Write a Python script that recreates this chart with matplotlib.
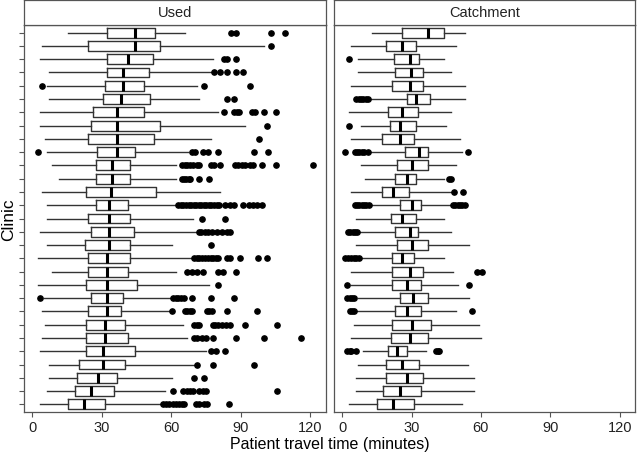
import numpy as np
import matplotlib
matplotlib.use("Agg")
import matplotlib.pyplot as plt

plt.rcParams['font.family'] = ['Liberation Sans', 'DejaVu Sans']

# clinics, top to bottom
clinics = list(range(1, 30))
panel_titles = ['Used', 'Catchment']

# ---- Used: box statistics (minutes) ----
used_whislo = [15.6, 4.3, 3.5, 7.3, 6.5, 7.3, 3.3, 3.3, 5.3, 6.3,
               8.4, 11.7, 4.3, 6.5, 6.5, 3.5, 6.5, 2.6, 8.4, 2.6,
               5.0, 4.3, 5.3, 4.3, 3.3, 7.3, 7.3, 6.3, 3.3]
used_q1 = [32.4, 24.2, 32.4, 32.4, 31.3, 30.3, 26.4, 25.2, 24.2, 28.1,
           27.4, 27.4, 23.3, 27.4, 24.2, 25.2, 22.8, 24.2, 24.2, 23.3,
           25.2, 24.2, 23.3, 23.3, 23.3, 20.3, 19.4, 18.3, 15.3]
used_med = [44.4, 44.4, 41.5, 39.3, 39.3, 38.2, 36.4, 36.4, 36.4, 36.4,
            34.4, 34.4, 34.0, 33.3, 33.3, 33.3, 33.3, 32.4, 32.4, 32.4,
            32.4, 32.4, 31.4, 31.4, 30.4, 30.4, 28.2, 25.4, 22.3]
used_q3 = [53.1, 55.3, 52.3, 50.2, 48.4, 51.0, 48.4, 55.3, 52.7, 44.3,
           42.2, 42.2, 53.6, 41.2, 42.2, 43.9, 42.2, 42.2, 41.2, 45.1,
           39.3, 38.2, 40.2, 41.2, 44.4, 40.2, 36.4, 35.4, 31.4]
used_whishi = [66.0, 99.9, 77.9, 77.9, 71.1, 72.1, 80.2, 92.0, 77.2, 67.1,
               62.1, 62.1, 81.1, 62.4, 69.2, 71.2, 60.2, 69.3, 62.1, 76.2,
               60.2, 59.5, 65.0, 67.0, 75.1, 70.3, 60.2, 57.1, 55.9]
used_fliers = [
    [85.7, 88.0, 103.0, 109.2],
    [103.0],
    [83.0, 84.2, 88.0],
    [78.3, 81.1, 84.0, 88.0, 91.2],
    [4.2, 74.2, 94.1],
    [84.0, 87.2],
    [83.0, 87.2, 88.3, 89.5, 94.8, 96.2, 100.1, 105.2],
    [101.3],
    [98.1],
    [2.3, 68.9, 70.3, 73.9, 76.1, 80.1, 95.9, 102.0],
    [64.5, 65.8, 67.0, 68.2, 69.6, 71.0, 72.0, 77.1, 78.5, 81.1,
     87.6, 89.0, 90.5, 92.0, 94.0, 95.5, 99.1, 105.2, 121.2],
    [64.5, 65.5, 66.5, 67.5, 68.2, 72.2, 76.2],
    [],
    [63.1, 64.2, 65.3, 66.4, 67.5, 68.6, 69.7, 70.8, 71.9, 73.0, 74.1,
     75.2, 76.3, 77.4, 78.5, 79.6, 80.7, 83.3, 85.2, 87.2, 91.2, 93.4,
     95.2, 97.0, 99.1],
    [73.2, 83.3],
    [71.8, 73.0, 74.5, 76.0, 77.5, 79.7, 81.8, 84.0, 85.4],
    [77.1],
    [69.9, 71.0, 72.2, 73.4, 74.6, 75.8, 77.0, 78.2, 79.4, 80.4, 84.0,
     85.4, 89.8, 97.7, 101.3],
    [67.0, 68.9, 71.0, 73.9, 80.0, 82.3, 88.0],
    [80.1],
    [3.3, 60.7, 61.9, 63.1, 64.3, 65.6, 69.0, 77.2, 87.2],
    [60.2, 66.0, 67.0, 68.0, 68.9, 75.6, 76.5, 77.5, 84.0, 97.2],
    [69.9, 71.0, 71.8, 77.9, 79.0, 80.0, 81.8, 83.7, 85.4, 91.9, 105.9],
    [69.9, 71.0, 73.2, 75.1, 78.2, 88.0, 100.1, 116.0],
    [77.2, 79.4, 83.3],
    [71.3, 78.2, 95.9],
    [69.9, 74.2],
    [60.9, 65.0, 66.7, 68.2, 69.6, 72.0, 73.6, 75.1, 105.9],
    [56.3, 57.8, 59.2, 60.6, 62.0, 63.4, 64.8, 65.6, 70.7, 72.2, 74.2,
     75.4, 85.1],
]

# ---- Catchment: box statistics (minutes) ----
catch_whislo = [13.0, 3.9, 6.9, 6.9, 3.9, 12.3, 2.9, 8.0, 3.9, 12.0,
                8.0, 9.8, 3.9, 12.0, 6.1, 7.5, 6.1, 8.7, 3.9, 3.9,
                6.9, 6.5, 5.1, 3.9, 9.1, 6.9, 6.1, 6.1, 2.9]
catch_q1 = [25.7, 19.1, 22.6, 23.0, 21.7, 27.9, 20.0, 20.5, 17.1, 27.0,
            23.9, 23.0, 17.1, 25.0, 21.0, 23.0, 23.9, 21.7, 21.7, 21.7,
            25.0, 23.0, 21.7, 21.0, 20.0, 19.1, 19.1, 17.8, 14.9]
catch_med = [37.3, 26.0, 29.2, 29.6, 29.2, 32.1, 26.0, 25.0, 25.0, 33.3,
             30.1, 27.9, 22.0, 30.1, 26.0, 29.2, 30.1, 26.0, 29.2, 27.9,
             30.6, 27.9, 30.1, 29.2, 23.9, 26.0, 27.9, 25.0, 22.0]
catch_q3 = [44.1, 32.1, 33.3, 35.0, 35.1, 38.0, 33.0, 32.1, 31.1, 37.2,
            37.2, 32.1, 28.9, 34.3, 32.1, 33.0, 37.2, 31.1, 35.1, 34.3,
            37.2, 34.3, 38.3, 37.2, 28.2, 33.3, 35.1, 34.3, 31.1]
catch_whishi = [53.2, 49.2, 44.1, 47.0, 53.2, 53.2, 47.0, 45.1, 50.9, 52.0,
                49.2, 44.1, 47.0, 47.3, 44.1, 47.0, 54.9, 44.1, 48.0, 49.9,
                54.9, 49.2, 59.0, 60.0, 36.1, 54.2, 57.1, 57.1, 52.0]
catch_fliers = [
    [], [], [2.9], [], [],
    [6.2, 7.2, 8.2, 9.2, 10.2, 11.2],
    [], [2.9], [],
    [1.4, 5.5, 6.5, 7.5, 8.5, 9.5, 11.0, 54.2],
    [],
    [46.0, 47.0],
    [48.3, 52.2],
    [5.5, 6.5, 7.5, 8.5, 9.5, 10.5, 11.5, 48.0, 49.0, 50.0, 51.0, 52.0, 53.0],
    [],
    [2.6, 3.6, 4.6, 5.6, 6.6],
    [],
    [1.4, 2.6, 3.8, 5.0, 6.2, 7.4],
    [58.1, 60.3],
    [2.2, 54.9],
    [2.2, 3.2, 4.2, 5.1],
    [3.3, 4.3, 5.3, 56.1],
    [], [],
    [2.2, 3.2, 4.0, 5.8, 40.5, 41.5, 41.9],
    [], [], [], [],
]

x_ticks = [0, 30, 60, 90, 120]


def make_stats(lo, q1, med, q3, hi, fl):
    return [dict(whislo=a, q1=b, med=c, q3=d, whishi=e, fliers=np.array(f))
            for a, b, c, d, e, f in zip(lo, q1, med, q3, hi, fl)]


panels = [
    make_stats(used_whislo, used_q1, used_med, used_q3, used_whishi, used_fliers),
    make_stats(catch_whislo, catch_q1, catch_med, catch_q3, catch_whishi, catch_fliers),
]

fig = plt.figure(figsize=(6.38, 4.56), dpi=100)

edge = '#555555'
lefts = [24.3 / 638, 334 / 638]
width = 301.5 / 638
bottom = 1 - 413.3 / 456
height = (413.3 - 25.7) / 456
strip_h = 24.5 / 456

for i, stats in enumerate(panels):
    ax = fig.add_axes([lefts[i], bottom, width, height])
    ax.bxp(stats, positions=clinics, orientation='horizontal', widths=0.75,
           showcaps=False,
           boxprops=dict(color='#333333', linewidth=1.0),
           whiskerprops=dict(color='#333333', linewidth=1.0),
           medianprops=dict(color='black', linewidth=2.2),
           flierprops=dict(marker='o', markerfacecolor='black',
                           markeredgecolor='black', markersize=3.8))
    ax.set_ylim(29.6, 0.4)
    ax.set_xlim(-3.5, 126.8)
    ax.set_xticks(x_ticks)
    ax.set_xticklabels([str(t) for t in x_ticks], fontsize=10.5, color='#222222')
    ax.tick_params(axis='x', length=3.5, width=0.8, color=edge, pad=2)
    if i == 0:
        ax.set_yticks(clinics)
        ax.set_yticklabels([''] * len(clinics))
        ax.tick_params(axis='y', length=3.5, width=0.8, color=edge)
    else:
        ax.set_yticks([])
    for s in ax.spines.values():
        s.set_color(edge)
        s.set_linewidth(0.9)

    # facet strip
    sx = fig.add_axes([lefts[i], bottom + height, width, strip_h])
    sx.set_xticks([])
    sx.set_yticks([])
    for s in sx.spines.values():
        s.set_color(edge)
        s.set_linewidth(0.9)
    sx.text(0.5, 0.5, panel_titles[i], ha='center', va='center',
            fontsize=10.5, color='#222222', transform=sx.transAxes)

fig.text(9 / 638, bottom + height / 2, 'Clinic', rotation=90,
         ha='center', va='center', fontsize=12.5)
fig.text(330 / 638, 1 - 445 / 456, 'Patient travel time (minutes)',
         ha='center', va='center', fontsize=11.5)

fig.savefig('out.png', dpi=100)
